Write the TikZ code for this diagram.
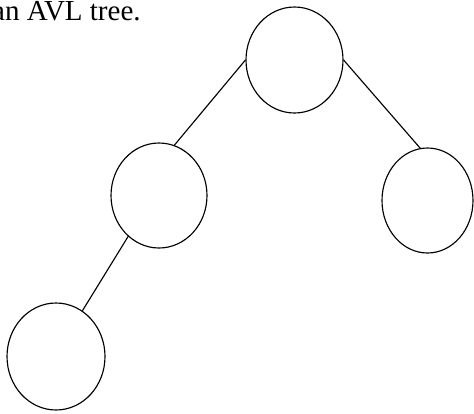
\documentclass[tikz,border=0pt]{standalone}
\usepackage{fontspec}
\setmainfont{Liberation Serif}
\usetikzlibrary{shapes.geometric}

\tikzset{avlnode/.style={draw, ellipse, line width=0.4mm, inner sep=0pt}}

\begin{document}
\begin{tikzpicture}[x=1pt, y=-1pt]
		%%%%% START %%%%%
		
		\useasboundingbox (0, 0) rectangle (474, 413);
		\clip (0, 0) rectangle (474, 413);
		
		\node[anchor=base west, inner sep=0pt, font=\fontsize{29}{32}\selectfont] (caption) at (-8, 20.5) {an AVL tree.};
		
		\node[avlnode, minimum width=97, minimum height=106] (root) at (294.5, 60) {};
		\node[avlnode, minimum width=96, minimum height=105] (left) at (159, 195.5) {};
		\node[avlnode, minimum width=91, minimum height=105] (right) at (427.5, 200.5) {};
		\node[avlnode, minimum width=98, minimum height=107] (leftleft) at (56, 356.5) {};
		
		\draw[line width=0.4mm] (root.west) -- (left.73);
		\draw[line width=0.4mm] (root.east) -- (right.98);
		\draw[line width=0.4mm] (left.233) -- (leftleft.60);
		
		%%%%% END %%%%%
	\end{tikzpicture}
\end{document}
